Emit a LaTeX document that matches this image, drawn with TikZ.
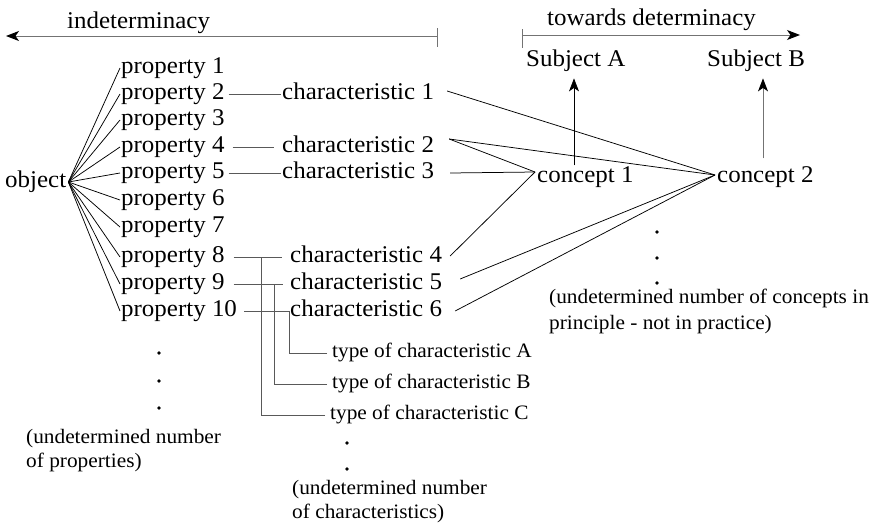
\documentclass[tikz,border=0pt]{standalone}
\usepackage{fontspec}
\setmainfont{Liberation Serif}[FakeStretch=1.04]
\usetikzlibrary{arrows.meta}
\begin{document}
\begin{tikzpicture}[x=1pt,y=-1pt,
  lbl/.style={font=\fontsize{24}{26}\selectfont, inner xsep=1pt, inner ysep=0pt,
              text height=16.5pt, text depth=5.3pt, anchor=west},
  small/.style={font=\fontsize{20.5}{24}\selectfont, inner xsep=5pt, inner ysep=0pt,
              text height=14pt, text depth=4.5pt, anchor=west},
  note/.style={font=\fontsize{20.5}{24}\selectfont, inner sep=0pt, anchor=west, align=left},
  fan/.style={draw=black, line width=0.75pt},
  link/.style={draw=black!65, line width=0.8pt},
  axis/.style={draw=black!55, line width=1pt},
  tip/.style={-{Stealth[length=13pt,width=10pt,inset=3.5pt,color=black]}},
  dot/.style={circle, fill=black, inner sep=0pt, minimum size=3.8pt}
]
\useasboundingbox (0,0) rectangle (876,525);

% direction arrows at the top
\node[lbl, anchor=base west] (ind) at (66,28) {indeterminacy};
\coordinate (indR) at (437,36);
\coordinate (indL) at (6,36);
\draw[axis, tip] (indR) -- (indL);
\draw[axis] ([yshift=8pt]indR) -- ([yshift=-11pt]indR);

\node[lbl, anchor=base west] (tow) at (546,25) {towards determinacy};
\coordinate (towL) at (522,35);
\coordinate (towR) at (800,35);
\draw[axis, tip] (towL) -- (towR);
\draw[axis] ([yshift=6pt]towL) -- ([yshift=-13pt]towL);

% subjects
\node[lbl] (sA) at (525,60.5) {Subject A};
\node[lbl] (sB) at (706,60.5) {Subject B};

% object and its properties
\node[lbl, inner xsep=2pt] (obj) at (3,182) {object};
\foreach \i/\y in {1/68,2/94,3/120,4/147,5/173,6/200,7/227,8/257,9/284,10/311}{
  \node[lbl] (p\i) at (120,\y) {property \i};
  \draw[fan] (obj.east) -- (p\i.west);
}

% characteristics
\node[lbl] (c1) at (281,94)  {characteristic 1};
\node[lbl] (c2) at (281,147) {characteristic 2};
\node[lbl] (c3) at (281,173) {characteristic 3};
\node[lbl] (c4) at (289,257) {characteristic 4};
\node[lbl] (c5) at (289,284) {characteristic 5};
\node[lbl] (c6) at (289,311) {characteristic 6};

\draw[link, shorten <=3pt] (p2.east)  -- (c1.west);
\draw[link, shorten <=7pt, shorten >=7pt] (p4.east)  -- (c2.west);
\draw[link, shorten <=3pt] (p5.east)  -- (c3.west);
\draw[link, shorten <=8pt, shorten >=7pt] (p8.east)  -- (c4.west);
\draw[link, shorten <=8pt, shorten >=6pt] (p9.east)  -- (c5.west);
\draw[link, shorten <=6pt] (p10.east) -- (c6.west);

% types of characteristics
\node[small] (tA) at (327,353) {type of characteristic A};
\node[small] (tB) at (327,384) {type of characteristic B};
\node[small] (tC) at (325,415) {type of characteristic C};
\coordinate (jA) at (289,311);
\coordinate (jB) at (274,284);
\coordinate (jC) at (261,257);
\draw[link] (tA.west) -| (jA);
\draw[link] (tB.west) -| (jB);
\draw[link] (tC.west) -| (jC);

% concepts; their lines meet a little above the middle of each label
\node[lbl, inner xsep=2pt] (k1) at (535,176.4) {concept 1};
\node[lbl, inner xsep=2pt] (k2) at (715,176.4) {concept 2};
\coordinate (k1in) at ([yshift=4.4pt]k1.west);
\coordinate (k2in) at ([yshift=1.4pt]k2.west);

\draw[fan] ([xshift=12pt,yshift=3pt]c1.east) -- (k2in);
\draw[fan] ([xshift=14pt,yshift=8pt]c2.east) -- (k1in);
\draw[fan] ([xshift=14pt,yshift=8pt]c2.east) -- (k2in);
\draw[fan] ([xshift=15pt]c3.east) -- (k1in);
\draw[fan] ([xshift=7pt,yshift=1pt]c4.east) -- (k1in);
\draw[fan] ([xshift=17pt,yshift=5pt]c5.east) -- (k2in);
\draw[fan] ([xshift=12pt]c6.east) -- (k2in);

% concepts lead to subjects
\draw[fan, tip] ([xshift=39pt,yshift=11pt]k1.west) -- ++(0,-87);
\draw[axis, line width=0.9pt, tip] ([xshift=48pt,yshift=18pt]k2.west) -- ++(0,-80);

% open-ended lists
\node[dot] (d1) at (159,353) {};
\node[dot] (d2) at (159,381) {};
\node[dot] (d3) at (159,408) {};
\node[note] (nP) at (26,451) {(undetermined number\\of properties)};

\node[dot] (d4) at (347,443) {};
\node[dot] (d5) at (347,469) {};
\node[note] (nC) at (292,501.5) {(undetermined number\\of characteristics)};

\node[dot] (d6) at (657,232) {};
\node[dot] (d7) at (657,258) {};
\node[dot] (d8) at (657,283) {};
\node[note] (nK) at (549,311) {(undetermined number of concepts in\\[2pt]principle - not in practice)};
\end{tikzpicture}
\end{document}
